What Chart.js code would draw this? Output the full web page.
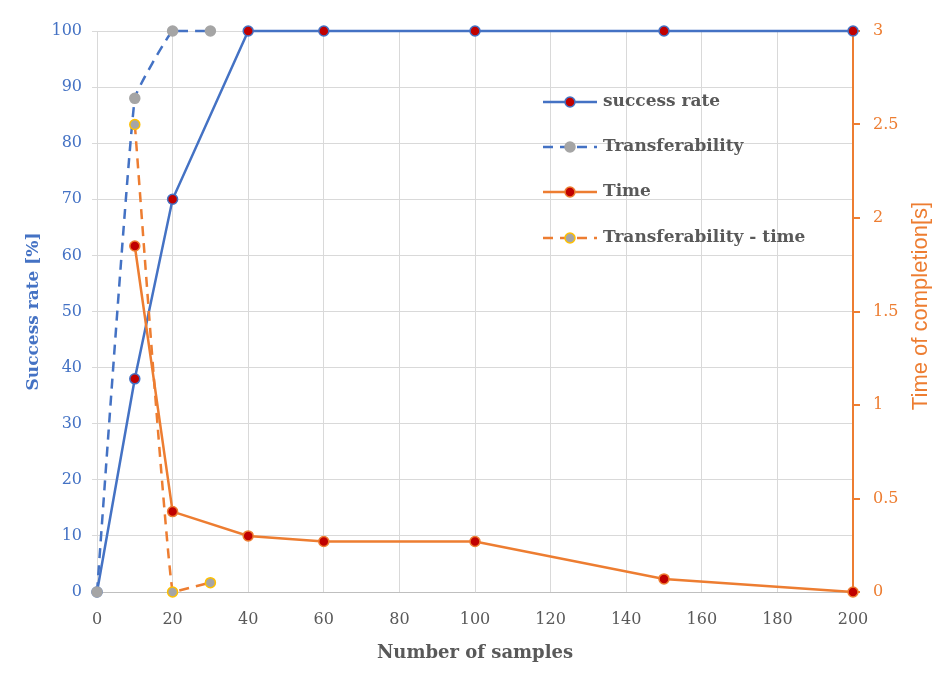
<!DOCTYPE html>
<html>
<head>
<meta charset="utf-8">
<script src="https://cdn.jsdelivr.net/npm/chart.js@4"></script>
<style>
  html, body { margin: 0; padding: 0; background: #fff; }
  #wrap { width: 948px; height: 693px; position: relative; }
</style>
</head>
<body>
<div id="wrap"><canvas id="chart"></canvas></div>
<script>
// data
const samples = [0, 10, 20, 40, 60, 100, 150, 200];
const successRate = [0, 38, 70, 100, 100, 100, 100, 100];

const transferSamples = [0, 10, 20, 30];
const transferability = [0, 88, 100, 100];

const timeSamples = [10, 20, 40, 60, 100, 150, 200];
const timeSec = [1.85, 0.43, 0.3, 0.27, 0.27, 0.07, 0];

const transferTimeSamples = [10, 20, 30];
const transferTime = [2.5, 0, 0.05];

const labels = ['success rate', 'Transferability', 'Time', 'Transferability - time'];

const BLUE = '#4472C4';
const ORANGE = '#ED7D31';
const GREY = '#A5A5A5';
const YELLOW = '#FFC000';
const RED = '#C00000';
const TEXT = '#595959';
const GRID = '#D9D9D9';
const SERIF = '"DejaVu Serif", serif';

const pts = (xs, ys) => xs.map((x, i) => ({ x: x, y: ys[i] }));

// legend drawn inside the plot area, like the Excel original
const insideLegend = {
  id: 'insideLegend',
  afterDraw(chart) {
    const ctx = chart.ctx;
    const x0 = 543, x1 = 597, tx = 603;
    const rows = [102, 147, 192, 238];
    ctx.save();
    chart.data.datasets.forEach((ds, i) => {
      const y = rows[i];
      ctx.strokeStyle = ds.borderColor;
      ctx.lineWidth = ds.borderWidth;
      ctx.setLineDash(ds.borderDash || []);
      ctx.beginPath();
      ctx.moveTo(x0, y);
      ctx.lineTo(x1, y);
      ctx.stroke();
      ctx.setLineDash([]);
      ctx.beginPath();
      ctx.arc((x0 + x1) / 2, y, ds.pointRadius, 0, Math.PI * 2);
      ctx.fillStyle = ds.pointBackgroundColor;
      ctx.fill();
      ctx.lineWidth = ds.pointBorderWidth;
      ctx.strokeStyle = ds.pointBorderColor;
      ctx.stroke();
      ctx.fillStyle = TEXT;
      ctx.font = 'bold 17px ' + SERIF;
      ctx.textBaseline = 'middle';
      ctx.textAlign = 'left';
      ctx.fillText(ds.label, tx, y);
    });
    ctx.restore();
  }
};

// right axis title reads bottom-to-top in the original
const rightTitle = {
  id: 'rightTitle',
  afterDraw(chart) {
    const ctx = chart.ctx;
    ctx.save();
    ctx.translate(921, 306);
    ctx.rotate(-Math.PI / 2);
    ctx.fillStyle = ORANGE;
    ctx.font = '22px "Liberation Sans", sans-serif';
    ctx.textAlign = 'center';
    ctx.textBaseline = 'middle';
    ctx.fillText('Time of completion[s]', 0, 0);
    ctx.restore();
  }
};

new Chart(document.getElementById('chart'), {
  type: 'line',
  data: {
    datasets: [
      {
        label: labels[0],
        data: pts(samples, successRate),
        yAxisID: 'y',
        borderColor: BLUE,
        borderWidth: 2.5,
        pointRadius: 5,
        pointBackgroundColor: RED,
        pointBorderColor: BLUE,
        pointBorderWidth: 1.5,
        tension: 0,
        order: 4,
        clip: false
      },
      {
        label: labels[1],
        data: pts(transferSamples, transferability),
        yAxisID: 'y',
        borderColor: BLUE,
        borderWidth: 2.5,
        borderDash: [10, 7],
        pointRadius: 5,
        pointBackgroundColor: GREY,
        pointBorderColor: GREY,
        pointBorderWidth: 1.5,
        tension: 0.1,
        order: 3,
        clip: false
      },
      {
        label: labels[2],
        data: pts(timeSamples, timeSec),
        yAxisID: 'y2',
        borderColor: ORANGE,
        borderWidth: 2.5,
        pointRadius: 5,
        pointBackgroundColor: RED,
        pointBorderColor: ORANGE,
        pointBorderWidth: 1.5,
        tension: 0,
        order: 2,
        clip: false
      },
      {
        label: labels[3],
        data: pts(transferTimeSamples, transferTime),
        yAxisID: 'y2',
        borderColor: ORANGE,
        borderWidth: 2.5,
        borderDash: [10, 7],
        pointRadius: 5,
        pointBackgroundColor: GREY,
        pointBorderColor: YELLOW,
        pointBorderWidth: 1.5,
        tension: 0.1,
        order: 1,
        clip: false
      }
    ]
  },
  options: {
    responsive: true,
    maintainAspectRatio: false,
    animation: false,
    layout: { padding: { top: 31, left: 0, right: 0, bottom: 0 } },
    plugins: {
      legend: { display: false },
      tooltip: { enabled: false }
    },
    scales: {
      x: {
        type: 'linear',
        min: 0,
        max: 200,
        ticks: {
          stepSize: 20,
          color: TEXT,
          font: { family: SERIF, size: 16 },
          padding: 18
        },
        grid: { color: GRID, lineWidth: 1, drawTicks: false },
        border: { color: '#BFBFBF', width: 1 },
        title: {
          display: true,
          text: 'Number of samples',
          color: TEXT,
          font: { family: SERIF, size: 18, weight: 'bold' },
          padding: { top: 0, bottom: 29 }
        },
        afterFit(scale) { scale.height = 101; }
      },
      y: {
        position: 'left',
        min: 0,
        max: 100,
        ticks: {
          stepSize: 10,
          color: BLUE,
          font: { family: SERIF, size: 16 },
          padding: 10
        },
        grid: { color: GRID, lineWidth: 1, tickLength: 5 },
        border: { color: GRID, width: 1 },
        title: {
          display: true,
          text: 'Success rate [%]',
          color: BLUE,
          font: { family: SERIF, size: 17, weight: 'bold' },
          padding: { top: 23, bottom: 0 }
        },
        afterFit(scale) { scale.width = 97; }
      },
      y2: {
        position: 'right',
        min: 0,
        max: 3,
        ticks: {
          stepSize: 0.5,
          color: ORANGE,
          font: { family: SERIF, size: 16 },
          padding: 13,
          callback: v => String(v)
        },
        grid: { drawOnChartArea: false, color: ORANGE, lineWidth: 2, tickLength: 7 },
        border: { color: ORANGE, width: 2 },
        title: { display: false },
        afterFit(scale) { scale.width = 95; }
      }
    }
  },
  plugins: [insideLegend, rightTitle]
});
</script>
</body>
</html>
